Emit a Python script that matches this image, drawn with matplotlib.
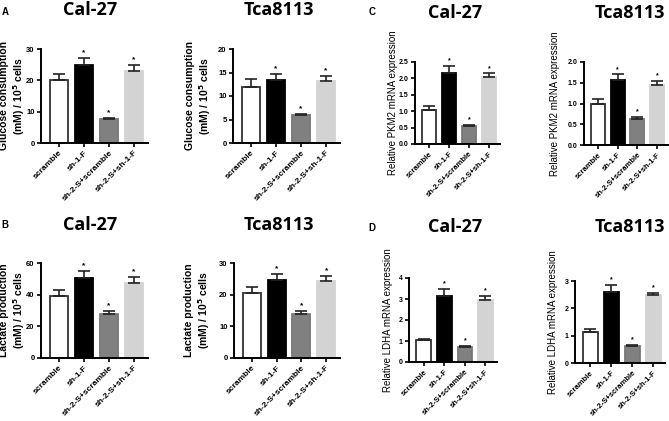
"""Glycolysis panels: glucose, lactate, PKM2 and LDHA in Cal-27 and Tca8113."""

import matplotlib
matplotlib.use("Agg")
from matplotlib import pyplot as plt

W, H = 669, 421

GROUPS = ["scramble", "sh-1-F", "sh-2-S+scramble", "sh-2-S+sh-1-F"]
COLORS = ["#ffffff", "#000000", "#808080", "#d3d3d3"]
STARS = ["", "*", "*", "*"]

# A: glucose consumption
glu_cal = [20.0, 24.8, 7.6, 23.0]
glu_cal_err = [2.0, 2.4, 0.4, 2.0]
glu_tca = [12.0, 13.5, 5.9, 13.2]
glu_tca_err = [1.6, 1.1, 0.3, 1.0]

# B: lactate production
lac_cal = [39.0, 50.5, 27.5, 47.5]
lac_cal_err = [4.0, 4.5, 2.0, 3.5]
lac_tca = [20.5, 24.5, 13.8, 24.2]
lac_tca_err = [2.0, 2.0, 1.0, 1.6]

# C: PKM2 mRNA
pkm_cal = [1.03, 2.15, 0.55, 2.03]
pkm_cal_err = [0.12, 0.23, 0.03, 0.12]
pkm_tca = [1.00, 1.57, 0.63, 1.45]
pkm_tca_err = [0.10, 0.13, 0.04, 0.10]

# D: LDHA mRNA
ldh_cal = [1.03, 3.15, 0.72, 2.95]
ldh_cal_err = [0.07, 0.35, 0.05, 0.20]
ldh_tca = [1.13, 2.60, 0.63, 2.47]
ldh_tca_err = [0.12, 0.25, 0.04, 0.10]

GLU_LABEL = "Glucose consumption\n(mM) / 10$^\\mathbf{5}$ cells"
LAC_LABEL = "Lactate production\n(mM) / 10$^\\mathbf{5}$ cells"
PKM_LABEL = "Relative PKM2 mRNA expression"
LDH_LABEL = "Relative LDHA mRNA expression"

plt.rcParams["font.family"] = ["Liberation Sans", "DejaVu Sans"]


def px_axes(fig, left, right, top, bottom):
    """Оси по пиксельным координатам (от верхнего левого угла)."""
    return fig.add_axes([left / W, 1 - bottom / H,
                         (right - left) / W, (bottom - top) / H])


def draw_panel(ax, values, errors, ymax, step, ylabel, big=True):
    """Столбчатая диаграмма с погрешностями вверх и звёздочками."""
    x = range(len(values))
    bars = ax.bar(x, values, width=0.72, color=COLORS,
                  edgecolor=["#333333", "#000000", "#777777", "#d3d3d3"],
                  linewidth=1.3,
                  yerr=[[0] * len(errors), errors], capsize=4,
                  error_kw=dict(elinewidth=1.2, capthick=1.2,
                                ecolor="#222222"))
    for i, (v, e, s) in enumerate(zip(values, errors, STARS)):
        if s:
            ax.text(i, v + e + ymax * 0.02, s, ha="center", va="bottom",
                    fontsize=6 if big else 5, fontweight="bold")
    ax.set_xlim(-0.72, 3.56)
    ax.set_ylim(0, ymax)
    ticks = [step * k for k in range(int(round(ymax / step)) + 1)]
    ax.set_yticks(ticks)
    if step < 1:
        ax.set_yticklabels([f"{t:.1f}" for t in ticks])
    fs_tick = 6 if big else 5.5
    ax.set_xticks(list(x))
    ax.set_xticklabels(GROUPS, rotation=45, ha="right",
                       rotation_mode="anchor", fontsize=fs_tick,
                       fontweight="bold")
    for lab in ax.get_yticklabels():
        lab.set_fontweight("bold")
        lab.set_fontsize(5.5 if big else 5)
    ax.tick_params(direction="out", length=3, width=1.2, pad=1.5)
    for side in ("top", "right"):
        ax.spines[side].set_visible(False)
    for side in ("left", "bottom"):
        ax.spines[side].set_linewidth(1.4)
    if big:
        ax.set_ylabel(ylabel, fontsize=7.5, fontweight="bold",
                      linespacing=1.2)
    else:
        ax.set_ylabel(ylabel, fontsize=7)
    return bars


fig = plt.figure(figsize=(W / 100, H / 100), dpi=100)

# (left, right, top, bottom) в пикселях, отступ подписи оси Y в пикселях
panels = [
    ((41, 148, 49, 143), 14, glu_cal, glu_cal_err, 30, 10, GLU_LABEL, True),
    ((233, 340, 49, 143), 20, glu_tca, glu_tca_err, 20, 5, GLU_LABEL, True),
    ((41, 148, 263, 358), 14, lac_cal, lac_cal_err, 60, 20, LAC_LABEL, True),
    ((234, 340, 263, 358), 22, lac_tca, lac_tca_err, 30, 10, LAC_LABEL, True),
    ((415, 500, 62, 144), 17, pkm_cal, pkm_cal_err, 2.5, 0.5, PKM_LABEL, False),
    ((584, 668, 62, 145), 24, pkm_tca, pkm_tca_err, 2.0, 0.5, PKM_LABEL, False),
    ((409, 497, 278, 362), 16, ldh_cal, ldh_cal_err, 4, 1, LDH_LABEL, False),
    ((575, 665, 281, 363), 17, ldh_tca, ldh_tca_err, 3, 1, LDH_LABEL, False),
]
for box, off, vals, errs, ymax, step, ylab, big in panels:
    ax = px_axes(fig, *box)
    draw_panel(ax, vals, errs, ymax, step, ylab, big)
    ax.yaxis.set_label_coords(-off / (box[1] - box[0]), 0.5)

# заголовки и буквы панелей
titles = [("Cal-27", 90, 10), ("Tca8113", 279, 10),
          ("Cal-27", 90, 225), ("Tca8113", 279, 225),
          ("Cal-27", 455, 13), ("Tca8113", 630, 13),
          ("Cal-27", 455, 227), ("Tca8113", 630, 227)]
for text, x, y in titles:
    fig.text(x / W, 1 - y / H, text, ha="center", va="center",
             fontsize=13, fontweight="bold", family=["Open Sans", "DejaVu Sans"])
for letter, x, y in [("A", 5, 12), ("B", 5, 225), ("C", 372, 12), ("D", 372, 228)]:
    fig.text(x / W, 1 - y / H, letter, ha="center", va="center",
             fontsize=7, fontweight="bold")

fig.savefig("out.png", dpi=100)
